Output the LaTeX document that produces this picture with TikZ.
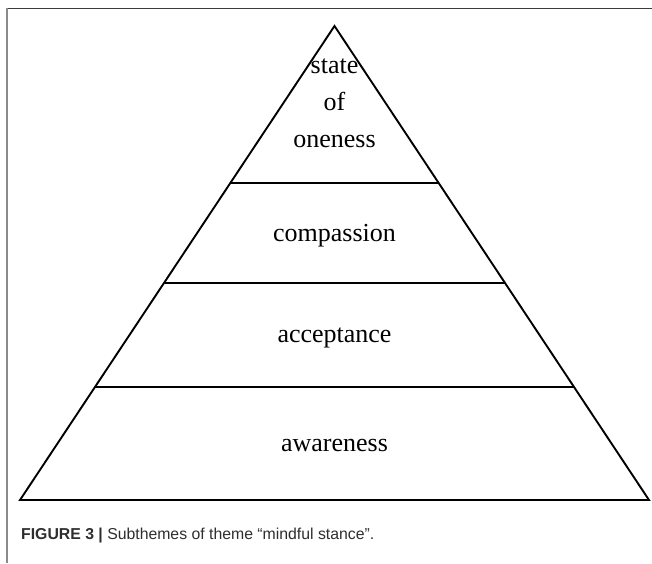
\documentclass[tikz,border=0pt]{standalone}
\usepackage{fontspec}
\setmainfont{Liberation Serif}
\newfontfamily\capfont{Liberation Sans}
\usepackage{xcolor}
\usepackage{tikz}
\usetikzlibrary{calc, positioning}

\definecolor{framegray}{HTML}{8A8A8A}
\definecolor{framedark}{HTML}{3A3A3A}
\definecolor{captext}{HTML}{2E2E2E}

\begin{document}
\begin{tikzpicture}[
    x=1pt, y=-1pt,
    edge/.style={line width=1.9pt, black, line join=miter},
    level/.style={inner sep=0pt, anchor=base, font=\fontsize{26}{37}\selectfont, align=center},
    caption/.style={inner sep=0pt, anchor=base west, font=\capfont\fontsize{15.8}{18}\selectfont, text=captext}
]
\useasboundingbox (0,0) rectangle (652,563);

% Frame
\draw[framedark, line width=1.4pt] (6.3,8.3) -- (652,8.3);
\draw[framegray, line width=2pt] (7.3,8) -- (7.3,563);

% Pyramid corners
\coordinate (apex) at (334.5,26);
\coordinate (bl) at (20,500);
\coordinate (br) at (649,500);

% Tier borders
\coordinate (l1) at ($(apex)!0.331!(bl)$);
\coordinate (r1) at ($(apex)!0.331!(br)$);
\coordinate (l2) at ($(apex)!0.542!(bl)$);
\coordinate (r2) at ($(apex)!0.542!(br)$);
\coordinate (l3) at ($(apex)!0.762!(bl)$);
\coordinate (r3) at ($(apex)!0.762!(br)$);

\draw[edge] (apex) -- (bl) -- (br) -- cycle;
\draw[edge] (l1) -- (r1);
\draw[edge] (l2) -- (r2);
\draw[edge] (l3) -- (r3);

% Labels (base = last line)
\node[level] (oneness) at (334.5,147) {state\\of\\oneness};
\node[level] (compassion) at (334.5,241) {compassion};
\node[level] (acceptance) at (334.5,342.7) {acceptance};
\node[level] (awareness) at (334.5,451.7) {awareness};

% Caption
\node[caption] (figcap) at (21,539.3) {\textbf{FIGURE 3 |} Subthemes of theme “mindful stance”.};

\end{tikzpicture}
\end{document}
